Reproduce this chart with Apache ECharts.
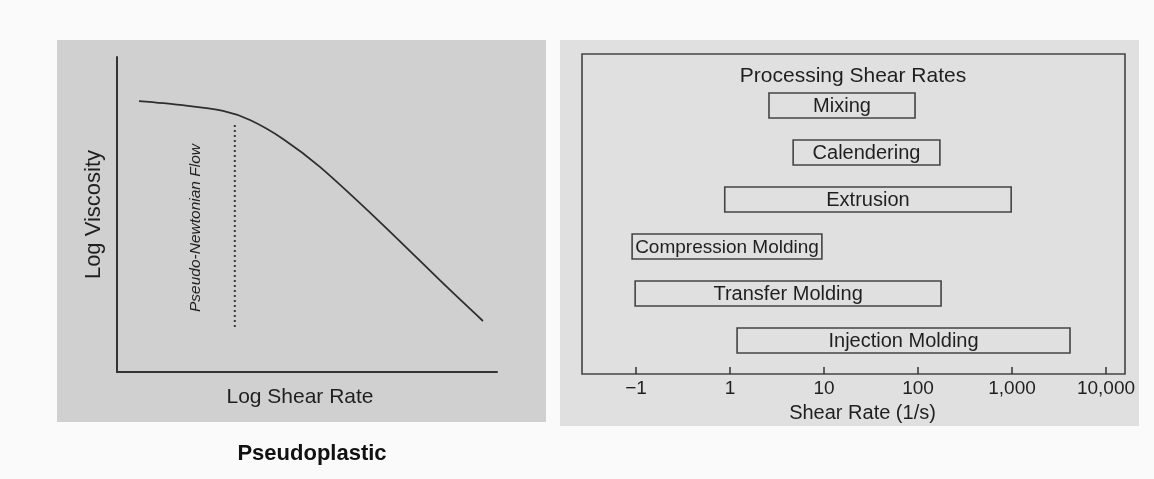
<!DOCTYPE html>
<html>
<head>
<meta charset="utf-8">
<script src="https://cdn.jsdelivr.net/npm/echarts@6/dist/echarts.min.js"></script>
<style>
html,body{margin:0;padding:0;background:#fafafa;}
#c{width:1154px;height:479px;}
</style>
</head>
<body>
<div id="c"></div>
<script>
// ---- Left panel: pseudoplastic flow curve (arbitrary log units) ----
const curveX = [0.58, 1.66, 2.79, 3.50, 4.37, 5.34, 6.92, 8.68, 9.63];
const curveY = [8.60, 8.48, 8.29, 8.00, 7.40, 6.51, 4.76, 2.70, 1.62];
const newtonX = [3.1, 3.1];
const newtonY = [7.84, 1.40];

// ---- Right panel: processing shear rate ranges (1/s) ----
const processes = ['Mixing', 'Calendering', 'Extrusion', 'Compression Molding', 'Transfer Molding', 'Injection Molding'];
const rateLow  = [2.6, 4.7, 0.88, 0.091, 0.098, 1.19];
const rateHigh = [93, 171, 980, 9.5, 176, 4140];
const tickValues = [0.1, 1, 10, 100, 1000, 10000];
const tickLabels = ['\u22121', '1', '10', '100', '1,000', '10,000'];

const FONT = 'Liberation Sans, Arial, Helvetica, sans-serif';
const TXT = '#1f1f1f';
const LINE = '#333333';

const chart = echarts.init(document.getElementById('c'), null, {renderer: 'canvas'});

const tickLogs = tickValues.map(v => Math.log10(v));
const barData = processes.map((p, i) => [Math.log10(rateLow[i]), Math.log10(rateHigh[i]), i, p]);

chart.setOption({
  backgroundColor: '#fafafa',
  animation: false,
  title: [
    {text: 'Processing Shear Rates', left: 848, top: 61, textAlign: 'center',
     textStyle: {fontFamily: FONT, fontSize: 21, fontWeight: 'normal', color: TXT}},
    {text: 'Pseudoplastic', left: 307, top: 438, textAlign: 'center',
     textStyle: {fontFamily: FONT, fontSize: 22, fontWeight: 'bold', color: '#111'}}
  ],
  graphic: [
    {type: 'rect', z: -10, shape: {x: 57, y: 40, width: 489, height: 382}, style: {fill: '#d0d0d0'}},
    {type: 'rect', z: -10, shape: {x: 560, y: 40, width: 579, height: 386}, style: {fill: '#e0e0e0'}},
    {type: 'text', z: 10, x: 196, y: 228, rotation: Math.PI / 2,
     style: {text: 'Pseudo-Newtonian Flow', align: 'center', verticalAlign: 'middle',
             fontFamily: FONT, fontSize: 15.5, fontStyle: 'italic', fill: TXT}}
  ],
  grid: [
    {left: 117, top: 57, width: 380, height: 315, show: false},
    {left: 582, top: 54, width: 543, height: 320, show: true, borderColor: '#444', borderWidth: 1.6, backgroundColor: 'transparent'}
  ],
  xAxis: [
    {gridIndex: 0, type: 'value', min: 0, max: 10,
     name: 'Log Shear Rate', nameLocation: 'middle', nameGap: 15,
     nameTextStyle: {fontFamily: FONT, fontSize: 21, color: TXT, padding: [0, 14, 0, 0]},
     axisLine: {show: true, onZero: false, lineStyle: {color: LINE, width: 2}},
     axisTick: {show: false}, axisLabel: {show: false}, splitLine: {show: false}},
    {gridIndex: 1, type: 'value', min: -1.574, max: 4.202,
     name: 'Shear Rate (1/s)', nameLocation: 'middle', nameGap: 29,
     nameTextStyle: {fontFamily: FONT, fontSize: 20, color: TXT, padding: [0, 0, 0, 18]},
     axisLine: {show: false, onZero: false},
     axisTick: {show: true, inside: true, length: 7, customValues: tickLogs, lineStyle: {color: LINE, width: 1.5}},
     axisLabel: {show: true, margin: 5, customValues: tickLogs, fontFamily: FONT, fontSize: 19, color: TXT,
                 formatter: v => tickLabels[tickLogs.findIndex(t => Math.abs(t - v) < 1e-6)]},
     splitLine: {show: false}}
  ],
  yAxis: [
    {gridIndex: 0, type: 'value', min: 0, max: 10,
     name: 'Log Viscosity', nameLocation: 'middle', nameGap: 12,
     nameTextStyle: {fontFamily: FONT, fontSize: 22, color: TXT},
     axisLine: {show: true, onZero: false, lineStyle: {color: LINE, width: 2}},
     axisTick: {show: false}, axisLabel: {show: false}, splitLine: {show: false}},
    {gridIndex: 1, type: 'value', inverse: true, min: -1.096, max: 5.713,
     axisLine: {show: false, onZero: false}, axisTick: {show: false}, axisLabel: {show: false}, splitLine: {show: false}}
  ],
  series: [
    {type: 'line', xAxisIndex: 0, yAxisIndex: 0, smooth: 0.3, symbol: 'none',
     lineStyle: {color: '#2e2e2e', width: 1.8},
     data: curveX.map((x, i) => [x, curveY[i]])},
    {type: 'line', xAxisIndex: 0, yAxisIndex: 0, symbol: 'none',
     lineStyle: {color: '#3a3a3a', width: 2, type: [2, 3]},
     data: newtonX.map((x, i) => [x, newtonY[i]])},
    {type: 'custom', xAxisIndex: 1, yAxisIndex: 1,
     data: barData,
     renderItem: function (params, api) {
       const s = api.coord([api.value(0), api.value(2)]);
       const e = api.coord([api.value(1), api.value(2)]);
       const h = 25;
       const name = processes[params.dataIndex];
       return {type: 'group', children: [
         {type: 'rect', shape: {x: s[0], y: s[1] - h / 2, width: e[0] - s[0], height: h},
          style: {fill: 'rgba(0,0,0,0)', stroke: '#444', lineWidth: 1.6}},
         {type: 'text', style: {text: name, x: (s[0] + e[0]) / 2, y: s[1] + 1, align: 'center', verticalAlign: 'middle',
          fontFamily: FONT, fontSize: name === 'Compression Molding' ? 19 : 20, fill: TXT}}
       ]};
     }}
  ]
});
</script>
</body>
</html>
